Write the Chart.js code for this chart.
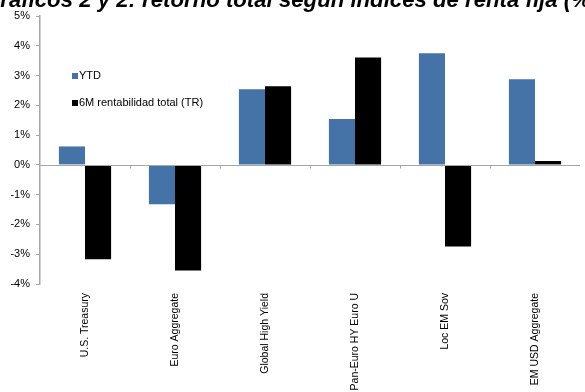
<!DOCTYPE html>
<html>
<head>
<meta charset="utf-8">
<script src="https://cdn.jsdelivr.net/npm/chart.js@4"></script>
<style>
  html, body { margin: 0; padding: 0; background: #fff; }
  #wrap { position: relative; width: 585px; height: 392px; overflow: hidden; }
  #title {
    position: absolute; left: -17px; top: -13px; white-space: nowrap;
    font: italic bold 22.2px "Liberation Sans", Arial, sans-serif; color: #000;
  }
  canvas { position: absolute; left: 0; top: 0; }
</style>
</head>
<body>
<div id="wrap">
  <canvas id="chart" width="585" height="392"></canvas>
  <div id="title">Gráficos 2 y 2: retorno total según índices de renta fija (%)</div>
</div>
<script>
const categories = ['U.S. Treasury', 'Euro Aggregate', 'Global High Yield', 'Pan-Euro HY Euro U', 'Loc EM Sov', 'EM USD Aggregate'];
const ytd = [0.62, -1.32, 2.54, 1.54, 3.75, 2.88];
const sixMonth = [-3.17, -3.55, 2.64, 3.61, -2.74, 0.13];
const seriesNames = ['YTD', '6M rentabilidad total (TR)'];
const seriesColors = ['#4572a7', '#000000'];

const font = { family: '"Liberation Sans", Arial, sans-serif', size: 11 };
const axisGrey = '#a6a6a6';

// legend drawn inside the plot area, like the original
const insideLegend = {
  id: 'insideLegend',
  afterDraw(chart) {
    const ctx = chart.ctx;
    ctx.save();
    ctx.font = '11px "Liberation Sans", Arial, sans-serif';
    ctx.textBaseline = 'middle';
    seriesNames.forEach((name, i) => {
      const y = 76 + i * 27;
      ctx.fillStyle = seriesColors[i];
      ctx.fillRect(72, y - 3, 6, 6);
      ctx.fillStyle = '#000';
      ctx.fillText(name, 79, y);
    });
    ctx.restore();
  }
};

// small category tick marks hanging below the zero line
const zeroTicks = {
  id: 'zeroTicks',
  afterDatasetsDraw(chart) {
    const { ctx, scales: { x, y } } = chart;
    const y0 = Math.round(y.getPixelForValue(0)) + 0.5;
    const half = (x.getPixelForValue(1) - x.getPixelForValue(0)) / 2;
    ctx.save();
    ctx.strokeStyle = axisGrey;
    ctx.lineWidth = 1;
    ctx.beginPath();
    ctx.moveTo(x.left, y0);
    ctx.lineTo(x.right, y0);
    for (let i = 1; i < categories.length; i++) {
      const px = Math.round(x.getPixelForValue(i) - half) + 0.5;
      ctx.moveTo(px, y0);
      ctx.lineTo(px, y0 + 3);
    }
    ctx.stroke();
    ctx.restore();
  }
};

new Chart(document.getElementById('chart'), {
  type: 'bar',
  data: {
    labels: categories,
    datasets: [
      { label: seriesNames[0], data: ytd, backgroundColor: seriesColors[0] },
      { label: seriesNames[1], data: sixMonth, backgroundColor: seriesColors[1] }
    ]
  },
  options: {
    responsive: false,
    animation: false,
    layout: { padding: { top: 16, right: 5, left: 0, bottom: 0 } },
    datasets: { bar: { barPercentage: 1, categoryPercentage: 0.58 } },
    plugins: { legend: { display: false }, tooltip: { enabled: false } },
    scales: {
      x: {
        grid: { display: false },
        border: { display: false },
        ticks: { font: { ...font, size: 10.5 }, color: '#000', minRotation: 90, maxRotation: 90, padding: 1, autoSkip: false },
        afterFit(scale) { scale.height = 108; }
      },
      y: {
        min: -4, max: 5,
        ticks: { stepSize: 1, font, color: '#000', padding: 6, callback: v => v + '%' },
        grid: {
          drawOnChartArea: false,
          tickColor: axisGrey, tickLength: 4, lineWidth: 1
        },
        border: { color: axisGrey, width: 1.5 },
        afterFit(scale) { scale.width = 40; }
      }
    }
  },
  plugins: [insideLegend, zeroTicks]
});
</script>
</body>
</html>
